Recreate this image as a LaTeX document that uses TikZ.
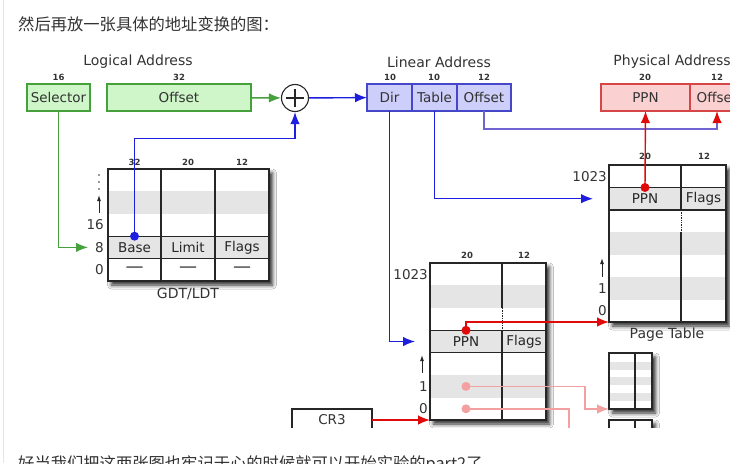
\documentclass[tikz,border=0pt]{standalone}
\usepackage{fontspec}
\setmainfont{DejaVu Sans}
\newfontfamily\cjk{Noto Sans CJK SC}
\usetikzlibrary{arrows.meta,positioning,calc,shadows.blur}

\definecolor{txt}{RGB}{51,51,51}
\definecolor{grnfill}{RGB}{206,246,200}
\definecolor{grnline}{RGB}{70,160,60}
\definecolor{blufill}{RGB}{206,206,250}
\definecolor{bluline}{RGB}{70,70,200}
\definecolor{bluarr}{RGB}{30,30,225}
\definecolor{redfill}{RGB}{250,208,208}
\definecolor{redline}{RGB}{215,70,70}
\definecolor{redarr}{RGB}{225,10,10}
\definecolor{pinkarr}{RGB}{242,160,160}
\definecolor{rowgray}{RGB}{229,229,229}
\definecolor{vioarr}{RGB}{112,100,210}

\begin{document}
\begin{tikzpicture}[
    x=1pt, y=-1pt,
    big/.style={font=\fontsize{13.5}{16}\selectfont},
    field/.style={draw, line width=1.1pt, outer sep=0pt, inner sep=0pt, minimum height=27pt, big, text=txt},
    bits/.style={font=\fontsize{8.5}{10}\selectfont\bfseries, text=txt},
    heading/.style={font=\fontsize{14}{16}\selectfont, text=txt},
    tablebox/.style={fill=white, inner sep=0pt, outer sep=0pt, blur shadow={shadow xshift=3.5pt, shadow yshift=-4pt, shadow blur radius=4pt, shadow opacity=85}},
    frame/.style={draw=black!85, line width=1.4pt},
    cell/.style={frame, fill=rowgray, outer sep=0pt, inner sep=0pt, minimum height=22.4pt, big, text=black!85},
    nul/.style={font=\fontsize{18}{18}\selectfont, text=txt},
    idx/.style={anchor=east, inner sep=1pt, big, text=txt},
    upmark/.style={-{Latex[length=6pt,width=4pt]}, line width=1pt, black!85},
    dot/.style={circle, fill, inner sep=0pt, minimum size=9pt},
    link/.style={-{Latex[length=12pt,width=9.5pt]}, line width=1.4pt}
]
    \fill[white] (0,0) rectangle (730,463);
    \useasboundingbox (0,0) rectangle (730,463);
    \draw[black!10, line width=1.2pt] (3.5,0) -- (3.5,463);

    % Page text
    \node[anchor=base west, inner sep=0pt, text=txt, font=\cjk\fontsize{16.3}{18}\selectfont] (intro) at (18,30.5) {然后再放一张具体的地址变换的图：};
    \node[anchor=base west, inner sep=0pt, text=txt, font=\cjk\fontsize{16.3}{18}\selectfont] (outro) at (18,469) {好当我们把这两张图也牢记于心的时候就可以开始实验的part2了。};

    \begin{scope}
    \clip (18,44) rectangle (730,427.5);

    % Logical address
    \node[heading] (logical) at (138,62) {Logical Address};
    \node[bits] (selbits) at (58.5,77) {16};
    \node[bits] (offbits) at (179,77) {32};
    \node[field, fill=grnfill, draw=grnline, minimum width=63pt] (sel) at (58.5,97.5) {Selector};
    \node[field, fill=grnfill, draw=grnline, minimum width=144pt] (off) at (179,97.5) {Offset};

    % Adder
    \node[draw=black!85, line width=1.1pt, circle, minimum size=27pt, fill=white] (plus) at (295,98) {};
    \draw[line width=1.1pt, black!85] ([xshift=-9pt]plus.center) -- ([xshift=9pt]plus.center)
        ([yshift=-9pt]plus.center) -- ([yshift=9pt]plus.center);

    % Linear address
    \node[heading] (linear) at (439,62) {Linear Address};
    \node[bits] (dirbits) at (390,77) {10};
    \node[bits] (tabbits) at (434,77) {10};
    \node[bits] (loffbits) at (484,77) {12};
    \node[field, fill=blufill, draw=bluline, minimum width=45pt] (dir) at (389.5,97.5) {Dir};
    \node[field, fill=blufill, draw=bluline, minimum width=45pt, right=0pt of dir] (table) {Table};
    \node[field, fill=blufill, draw=bluline, minimum width=54pt, right=0pt of table] (loff) {Offset};

    % Physical address
    \node[heading] (physical) at (672,62) {Physical Address};
    \node[bits] (ppnbits) at (645,77) {20};
    \node[bits] (poffbits) at (717,77) {12};
    \node[field, fill=redfill, draw=redline, minimum width=89pt] (ppn) at (645.5,97.5) {PPN};
    \node[field, fill=redfill, draw=redline, minimum width=54pt, right=0pt of ppn] (poff) {Offset};

    % GDT/LDT
    \node[tablebox, minimum width=161pt, minimum height=112pt] (gdt) at (188.5,225) {};
    \fill[rowgray] (108,191.4) rectangle (269,213.8);
    \node[cell, minimum width=53pt] (base) at (134.5,247.4) {Base};
    \node[cell, minimum width=54pt, right=0pt of base] (limit) {Limit};
    \node[cell, minimum width=54pt, right=0pt of limit] (gflags) {Flags};
    \node[nul] (nul1) at (134.5,269.8) {—};
    \node[nul] (nul2) at (188,269.8) {—};
    \node[nul] (nul3) at (242,269.8) {—};
    \draw[frame] (161,169) -- (161,281) (215,169) -- (215,281);
    \draw[frame] (gdt.north west) rectangle (gdt.south east);
    \node[bits] (gbits1) at (134.5,162) {32};
    \node[bits] (gbits2) at (188,162) {20};
    \node[bits] (gbits3) at (242,162) {12};
    \foreach \y in {175,182,189} \fill[txt] (99,\y) circle (0.9);
    \draw[upmark] (99,213) -- (99,195);
    \node[idx] (g16) at (105,225) {16};
    \node[idx] (g8) at (105,247.4) {8};
    \node[idx] (g0) at (105,269.8) {0};
    \node[heading] (gdtcap) at (188,294) {GDT/LDT};

    % Page directory
    \node[tablebox, minimum width=116pt, minimum height=157pt] (pd) at (488,341.5) {};
    \fill[rowgray] (430,285.4) rectangle (546,307.9);
    \fill[rowgray] (430,375.1) rectangle (546,397.6);
    \node[cell, minimum width=72pt] (pdppn) at (466,341.5) {PPN};
    \node[cell, minimum width=44pt, right=0pt of pdppn] (pdflags) {Flags};
    \draw[frame] (502,263) -- (502,307.9) (502,330.3) -- (502,420);
    \draw[frame, densely dotted, line width=1pt] (502,307.9) -- (502,330.3);
    \draw[frame] (pd.north west) rectangle (pd.south east);
    \node[bits] (pdbits1) at (467,255) {20};
    \node[bits] (pdbits2) at (524,255) {12};
    \node[idx] (pdtop) at (429,274.2) {1023};
    \draw[upmark] (422,373) -- (422,355);
    \node[idx] (pdone) at (429,386.4) {1};
    \node[idx] (pdzero) at (429,408.8) {0};
    \node[dot, fill=pinkarr] (pd1) at (466,386.4) {};
    \node[dot, fill=pinkarr] (pd0) at (466,408.8) {};

    % Page table
    \node[tablebox, minimum width=117pt, minimum height=157pt] (pt) at (667.5,243.5) {};
    \fill[rowgray] (609,232.3) rectangle (726,254.7);
    \fill[rowgray] (609,277.1) rectangle (726,299.6);
    \node[cell, minimum width=72pt] (ptppn) at (645,198.7) {PPN};
    \node[cell, minimum width=45pt, right=0pt of ptppn] (ptflags) {Flags};
    \draw[frame] (681,165) -- (681,187.4) (681,232.3) -- (681,322);
    \draw[frame, densely dotted, line width=1pt] (681,209.9) -- (681,232.3);
    \draw[frame] (pt.north west) rectangle (pt.south east);
    \node[bits] (ptbits1) at (645,156) {20};
    \node[bits] (ptbits2) at (704,156) {12};
    \node[idx] (pttop) at (608,176.2) {1023};
    \draw[upmark] (602,277) -- (602,258);
    \node[idx] (ptone) at (608,288.4) {1};
    \node[idx] (ptzero) at (608,310.8) {0};
    \node[heading] (ptcap) at (667,335) {Page Table};

    % Other page tables
    \node[tablebox, minimum width=43pt, minimum height=56pt] (pt1) at (630.5,381) {};
    \fill[rowgray] (609,362) rectangle (652,369.5);
    \fill[rowgray] (609,377) rectangle (652,385);
    \fill[rowgray] (609,393) rectangle (652,401);
    \draw[frame] (635,353) -- (635,409);
    \draw[frame] (pt1.north west) rectangle (pt1.south east);
    \node[tablebox, minimum width=43pt, minimum height=56pt] (pt2) at (630.5,448) {};
    \draw[frame] (635,420) -- (635,476);
    \draw[frame] (pt2.north west) rectangle (pt2.south east);

    % CR3
    \node[field, draw=black!85, fill=white, minimum width=80pt, minimum height=22pt] (cr3) at (332,420) {CR3};

    % Arrows
    \draw[link, grnline] (sel.south) |- ([xshift=-6pt]g8.west);
    \draw[link, grnline] (off) -- (plus);
    \draw[link, bluarr] (plus) -- (dir);
    \draw[link, bluarr] (base.north) -- ++(0,-98) -| (plus.south);
    \fill[bluarr] (base.north) circle (4.5);
    \draw[link, bluarr] (dir.south) |- ([xshift=-15pt]pdppn.west);
    \draw[link, bluarr] (table.south) |- ([xshift=-16pt]ptppn.west);
    \draw[link, vioarr, -{Latex[length=12pt,width=9.5pt,color=redarr]}] (loff.south) -- ++(0,18) -| (poff.south);
    \draw[link, redarr] (ptppn.north) -- (ppn.south);
    \fill[redarr] (ptppn.north) circle (4.5);
    \draw[link, redarr] (pdppn.north) |- (pt.south west);
    \fill[redarr] (pdppn.north) circle (4.5);
    \draw[link, redarr] (cr3) -- (pd.south west);
    \draw[link, pinkarr] (pd1.center) -- ++(119,0) |- (pt1.south west);
    \draw[link, pinkarr] (pd0.center) -- ++(103,0) |- (pt2.south west);
    \end{scope}

\end{tikzpicture}
\end{document}
